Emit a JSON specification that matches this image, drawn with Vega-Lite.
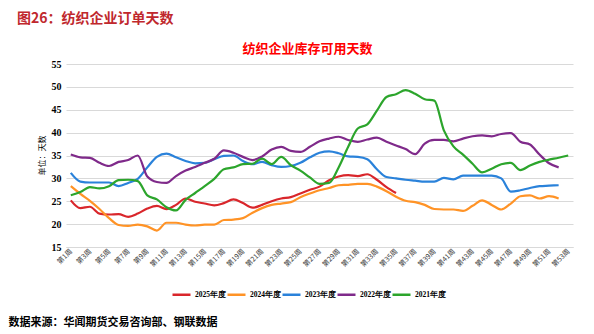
{
  "$schema": "https://vega.github.io/schema/vega-lite/v6.json",
  "width": 507,
  "height": 183,
  "autosize": {"type": "none"},
  "padding": {"left": 66, "top": 64, "right": 21, "bottom": 87},
  "background": "white",
  "title": {
    "text": "图26：纺织企业订单天数",
    "anchor": "start",
    "frame": "group",
    "dx": -49,
    "offset": 16,
    "font": "Noto Sans CJK SC",
    "fontSize": 14,
    "fontWeight": "bold",
    "color": "#C0282D"
  },
  "config": {
    "view": {"stroke": null},
    "font": "Noto Sans CJK SC"
  },
  "data": {
    "values": [
      {"year":"2025年度","week":1,"v":25.2},{"year":"2025年度","week":2,"v":23.5},{"year":"2025年度","week":3,"v":23.8},{"year":"2025年度","week":4,"v":22.3},{"year":"2025年度","week":5,"v":22.1},{"year":"2025年度","week":6,"v":22.2},{"year":"2025年度","week":7,"v":21.6},{"year":"2025年度","week":8,"v":22.3},{"year":"2025年度","week":9,"v":23.4},{"year":"2025年度","week":10,"v":24.0},{"year":"2025年度","week":11,"v":23.3},{"year":"2025年度","week":12,"v":24.2},{"year":"2025年度","week":13,"v":25.6},{"year":"2025年度","week":14,"v":24.9},{"year":"2025年度","week":15,"v":24.5},{"year":"2025年度","week":16,"v":24.1},{"year":"2025年度","week":17,"v":24.6},{"year":"2025年度","week":18,"v":25.4},{"year":"2025年度","week":19,"v":24.6},{"year":"2025年度","week":20,"v":23.6},{"year":"2025年度","week":21,"v":24.2},{"year":"2025年度","week":22,"v":25.0},{"year":"2025年度","week":23,"v":25.6},{"year":"2025年度","week":24,"v":25.9},{"year":"2025年度","week":25,"v":26.7},{"year":"2025年度","week":26,"v":27.5},{"year":"2025年度","week":27,"v":28.2},{"year":"2025年度","week":28,"v":29.6},{"year":"2025年度","week":29,"v":30.4},{"year":"2025年度","week":30,"v":30.7},{"year":"2025年度","week":31,"v":30.5},{"year":"2025年度","week":32,"v":30.9},{"year":"2025年度","week":33,"v":29.7},{"year":"2025年度","week":34,"v":28.1},{"year":"2025年度","week":35,"v":26.8},
      {"year":"2024年度","week":1,"v":28.3},{"year":"2024年度","week":2,"v":26.6},{"year":"2024年度","week":3,"v":25.1},{"year":"2024年度","week":4,"v":23.3},{"year":"2024年度","week":5,"v":21.3},{"year":"2024年度","week":6,"v":19.8},{"year":"2024年度","week":7,"v":19.6},{"year":"2024年度","week":8,"v":19.9},{"year":"2024年度","week":9,"v":19.5},{"year":"2024年度","week":10,"v":18.6},{"year":"2024年度","week":11,"v":20.3},{"year":"2024年度","week":12,"v":20.3},{"year":"2024年度","week":13,"v":19.9},{"year":"2024年度","week":14,"v":19.7},{"year":"2024年度","week":15,"v":19.9},{"year":"2024年度","week":16,"v":19.9},{"year":"2024年度","week":17,"v":20.9},{"year":"2024年度","week":18,"v":21.0},{"year":"2024年度","week":19,"v":21.3},{"year":"2024年度","week":20,"v":22.5},{"year":"2024年度","week":21,"v":23.5},{"year":"2024年度","week":22,"v":24.2},{"year":"2024年度","week":23,"v":24.5},{"year":"2024年度","week":24,"v":24.8},{"year":"2024年度","week":25,"v":25.9},{"year":"2024年度","week":26,"v":26.7},{"year":"2024年度","week":27,"v":27.4},{"year":"2024年度","week":28,"v":27.9},{"year":"2024年度","week":29,"v":28.5},{"year":"2024年度","week":30,"v":28.6},{"year":"2024年度","week":31,"v":28.8},{"year":"2024年度","week":32,"v":28.8},{"year":"2024年度","week":33,"v":28.2},{"year":"2024年度","week":34,"v":27.2},{"year":"2024年度","week":35,"v":26.0},{"year":"2024年度","week":36,"v":25.1},{"year":"2024年度","week":37,"v":24.8},{"year":"2024年度","week":38,"v":24.2},{"year":"2024年度","week":39,"v":23.3},{"year":"2024年度","week":40,"v":23.2},{"year":"2024年度","week":41,"v":23.2},{"year":"2024年度","week":42,"v":22.9},{"year":"2024年度","week":43,"v":24.0},{"year":"2024年度","week":44,"v":25.2},{"year":"2024年度","week":45,"v":24.2},{"year":"2024年度","week":46,"v":23.2},{"year":"2024年度","week":47,"v":24.5},{"year":"2024年度","week":48,"v":26.1},{"year":"2024年度","week":49,"v":26.3},{"year":"2024年度","week":50,"v":25.6},{"year":"2024年度","week":51,"v":26.1},{"year":"2024年度","week":52,"v":25.6},
      {"year":"2023年度","week":1,"v":31.2},{"year":"2023年度","week":2,"v":29.3},{"year":"2023年度","week":3,"v":29.1},{"year":"2023年度","week":4,"v":29.1},{"year":"2023年度","week":5,"v":29.1},{"year":"2023年度","week":6,"v":28.3},{"year":"2023年度","week":7,"v":29.0},{"year":"2023年度","week":8,"v":29.9},{"year":"2023年度","week":9,"v":32.4},{"year":"2023年度","week":10,"v":34.7},{"year":"2023年度","week":11,"v":35.4},{"year":"2023年度","week":12,"v":34.6},{"year":"2023年度","week":13,"v":33.8},{"year":"2023年度","week":14,"v":33.3},{"year":"2023年度","week":15,"v":33.4},{"year":"2023年度","week":16,"v":34.2},{"year":"2023年度","week":17,"v":34.9},{"year":"2023年度","week":18,"v":35.0},{"year":"2023年度","week":19,"v":33.8},{"year":"2023年度","week":20,"v":33.1},{"year":"2023年度","week":21,"v":33.6},{"year":"2023年度","week":22,"v":32.9},{"year":"2023年度","week":23,"v":32.5},{"year":"2023年度","week":24,"v":32.7},{"year":"2023年度","week":25,"v":33.4},{"year":"2023年度","week":26,"v":34.6},{"year":"2023年度","week":27,"v":35.6},{"year":"2023年度","week":28,"v":35.9},{"year":"2023年度","week":29,"v":35.5},{"year":"2023年度","week":30,"v":34.8},{"year":"2023年度","week":31,"v":34.7},{"year":"2023年度","week":32,"v":34.2},{"year":"2023年度","week":33,"v":32.0},{"year":"2023年度","week":34,"v":30.3},{"year":"2023年度","week":35,"v":30.0},{"year":"2023年度","week":36,"v":29.7},{"year":"2023年度","week":37,"v":29.5},{"year":"2023年度","week":38,"v":29.3},{"year":"2023年度","week":39,"v":29.3},{"year":"2023年度","week":40,"v":30.1},{"year":"2023年度","week":41,"v":29.8},{"year":"2023年度","week":42,"v":30.6},{"year":"2023年度","week":43,"v":30.6},{"year":"2023年度","week":44,"v":30.6},{"year":"2023年度","week":45,"v":30.6},{"year":"2023年度","week":46,"v":30.0},{"year":"2023年度","week":47,"v":27.1},{"year":"2023年度","week":48,"v":27.4},{"year":"2023年度","week":49,"v":27.9},{"year":"2023年度","week":50,"v":28.3},{"year":"2023年度","week":51,"v":28.4},{"year":"2023年度","week":52,"v":28.5},
      {"year":"2022年度","week":1,"v":35.2},{"year":"2022年度","week":2,"v":34.6},{"year":"2022年度","week":3,"v":34.5},{"year":"2022年度","week":4,"v":33.4},{"year":"2022年度","week":5,"v":32.7},{"year":"2022年度","week":6,"v":33.6},{"year":"2022年度","week":7,"v":34.0},{"year":"2022年度","week":8,"v":35.0},{"year":"2022年度","week":9,"v":30.4},{"year":"2022年度","week":10,"v":29.2},{"year":"2022年度","week":11,"v":29.0},{"year":"2022年度","week":12,"v":30.5},{"year":"2022年度","week":13,"v":31.7},{"year":"2022年度","week":14,"v":32.5},{"year":"2022年度","week":15,"v":33.4},{"year":"2022年度","week":16,"v":34.3},{"year":"2022年度","week":17,"v":36.1},{"year":"2022年度","week":18,"v":35.6},{"year":"2022年度","week":19,"v":34.7},{"year":"2022年度","week":20,"v":34.0},{"year":"2022年度","week":21,"v":34.8},{"year":"2022年度","week":22,"v":36.3},{"year":"2022年度","week":23,"v":36.9},{"year":"2022年度","week":24,"v":36.0},{"year":"2022年度","week":25,"v":35.8},{"year":"2022年度","week":26,"v":36.9},{"year":"2022年度","week":27,"v":38.1},{"year":"2022年度","week":28,"v":38.7},{"year":"2022年度","week":29,"v":39.1},{"year":"2022年度","week":30,"v":38.4},{"year":"2022年度","week":31,"v":38.0},{"year":"2022年度","week":32,"v":38.5},{"year":"2022年度","week":33,"v":38.9},{"year":"2022年度","week":34,"v":38.0},{"year":"2022年度","week":35,"v":37.2},{"year":"2022年度","week":36,"v":36.4},{"year":"2022年度","week":37,"v":35.3},{"year":"2022年度","week":38,"v":37.6},{"year":"2022年度","week":39,"v":38.4},{"year":"2022年度","week":40,"v":38.4},{"year":"2022年度","week":41,"v":38.1},{"year":"2022年度","week":42,"v":38.7},{"year":"2022年度","week":43,"v":39.2},{"year":"2022年度","week":44,"v":39.4},{"year":"2022年度","week":45,"v":39.2},{"year":"2022年度","week":46,"v":39.7},{"year":"2022年度","week":47,"v":39.9},{"year":"2022年度","week":48,"v":38.0},{"year":"2022年度","week":49,"v":37.4},{"year":"2022年度","week":50,"v":35.2},{"year":"2022年度","week":51,"v":33.3},{"year":"2022年度","week":52,"v":32.4},
      {"year":"2021年度","week":1,"v":26.3},{"year":"2021年度","week":2,"v":27.0},{"year":"2021年度","week":3,"v":28.1},{"year":"2021年度","week":4,"v":27.8},{"year":"2021年度","week":5,"v":28.3},{"year":"2021年度","week":6,"v":29.6},{"year":"2021年度","week":7,"v":29.7},{"year":"2021年度","week":8,"v":29.4},{"year":"2021年度","week":9,"v":26.3},{"year":"2021年度","week":10,"v":25.4},{"year":"2021年度","week":11,"v":23.7},{"year":"2021年度","week":12,"v":23.0},{"year":"2021年度","week":13,"v":25.3},{"year":"2021年度","week":14,"v":26.8},{"year":"2021年度","week":15,"v":28.3},{"year":"2021年度","week":16,"v":29.9},{"year":"2021年度","week":17,"v":32.0},{"year":"2021年度","week":18,"v":32.4},{"year":"2021年度","week":19,"v":33.1},{"year":"2021年度","week":20,"v":33.2},{"year":"2021年度","week":21,"v":34.3},{"year":"2021年度","week":22,"v":33.1},{"year":"2021年度","week":23,"v":34.7},{"year":"2021年度","week":24,"v":32.9},{"year":"2021年度","week":25,"v":31.7},{"year":"2021年度","week":26,"v":30.2},{"year":"2021年度","week":27,"v":28.8},{"year":"2021年度","week":28,"v":29.0},{"year":"2021年度","week":29,"v":32.4},{"year":"2021年度","week":30,"v":36.9},{"year":"2021年度","week":31,"v":40.9},{"year":"2021年度","week":32,"v":41.8},{"year":"2021年度","week":33,"v":44.8},{"year":"2021年度","week":34,"v":47.8},{"year":"2021年度","week":35,"v":48.4},{"year":"2021年度","week":36,"v":49.3},{"year":"2021年度","week":37,"v":48.5},{"year":"2021年度","week":38,"v":47.3},{"year":"2021年度","week":39,"v":47.0},{"year":"2021年度","week":40,"v":40.5},{"year":"2021年度","week":41,"v":37.0},{"year":"2021年度","week":42,"v":35.2},{"year":"2021年度","week":43,"v":33.2},{"year":"2021年度","week":44,"v":31.3},{"year":"2021年度","week":45,"v":32.1},{"year":"2021年度","week":46,"v":33.1},{"year":"2021年度","week":47,"v":33.4},{"year":"2021年度","week":48,"v":31.8},{"year":"2021年度","week":49,"v":32.8},{"year":"2021年度","week":50,"v":33.6},{"year":"2021年度","week":51,"v":34.1},{"year":"2021年度","week":52,"v":34.5},{"year":"2021年度","week":53,"v":35.0}
    ]
  },
  "resolve": {"axis": {"x": "independent"}},
  "layer": [
    {
      "mark": {"type": "line", "interpolate": "monotone", "strokeWidth": 2.2},
      "encoding": {
        "x": {
          "field": "week",
          "type": "quantitative",
          "scale": {"domain": [0.5, 53.5], "nice": false, "zero": false},
          "axis": {
            "orient": "bottom",
            "values": [1,3,5,7,9,11,13,15,17,19,21,23,25,27,29,31,33,35,37,39,41,43,45,47,49,51,53],
            "labelExpr": "'第' + datum.value + '周'",
            "labelAngle": -45,
            "labelAlign": "right",
            "labelBaseline": "middle",
            "labelFontSize": 7,
            "labelColor": "#404040",
            "labelPadding": 3,
            "ticks": false,
            "grid": false,
            "domain": true,
            "domainColor": "#D9D9D9",
            "labelOverlap": false,
            "title": "数据来源：华闻期货交易咨询部、钢联数据",
            "titleX": -58,
            "titleY": 75,
            "titleAngle": 0,
            "titleAlign": "left",
            "titleAnchor": null,
            "titleBaseline": "middle",
            "titleFontSize": 11,
            "titleFontWeight": "bold",
            "titleColor": "#000000"
          }
        },
        "y": {
          "field": "v",
          "type": "quantitative",
          "scale": {"domain": [15, 55], "nice": false, "zero": false},
          "axis": {
            "values": [15,20,25,30,35,40,45,50,55],
            "labelOverlap": false,
            "labelFont": "Liberation Serif",
            "labelFontSize": 10,
            "labelFontWeight": "bold",
            "labelColor": "#000000",
            "labelPadding": 5,
            "ticks": false,
            "domain": false,
            "gridColor": "#D9D9D9",
            "gridWidth": 1,
            "title": "单位：天数",
            "titleX": -24,
            "titleY": 91,
            "titleAlign": "center",
            "titleBaseline": "middle",
            "titleFontSize": 8,
            "titleFontWeight": "normal",
            "titleColor": "#000000"
          }
        },
        "color": {
          "field": "year",
          "type": "nominal",
          "scale": {
            "domain": ["2025年度","2024年度","2023年度","2022年度","2021年度"],
            "range": ["#D9262B","#FF9326","#2A82DA","#7F2A8A","#2CA52C"]
          },
          "legend": {
            "orient": "none",
            "legendX": 105,
            "legendY": 220,
            "direction": "horizontal",
            "title": null,
            "symbolType": "stroke",
            "symbolSize": 324,
            "symbolStrokeWidth": 2.5,
            "labelFont": "Liberation Serif",
            "labelFontSize": 7.5,
            "labelFontWeight": "bold",
            "labelColor": "#000000",
            "labelOffset": 3,
            "columnPadding": -11
          }
        }
      }
    },
    {
      "mark": {"type": "rule", "opacity": 0},
      "encoding": {
        "x": {
          "field": "week",
          "type": "quantitative",
          "axis": {
            "orient": "top",
            "labels": false,
            "ticks": false,
            "domain": false,
            "grid": false,
            "title": "纺织企业库存可用天数",
            "titleX": 241,
            "titleY": -16,
            "titleAlign": "center",
            "titleBaseline": "middle",
            "titleFontSize": 13,
            "titleFontWeight": "bold",
            "titleColor": "#FF0000"
          }
        }
      }
    }
  ]
}
